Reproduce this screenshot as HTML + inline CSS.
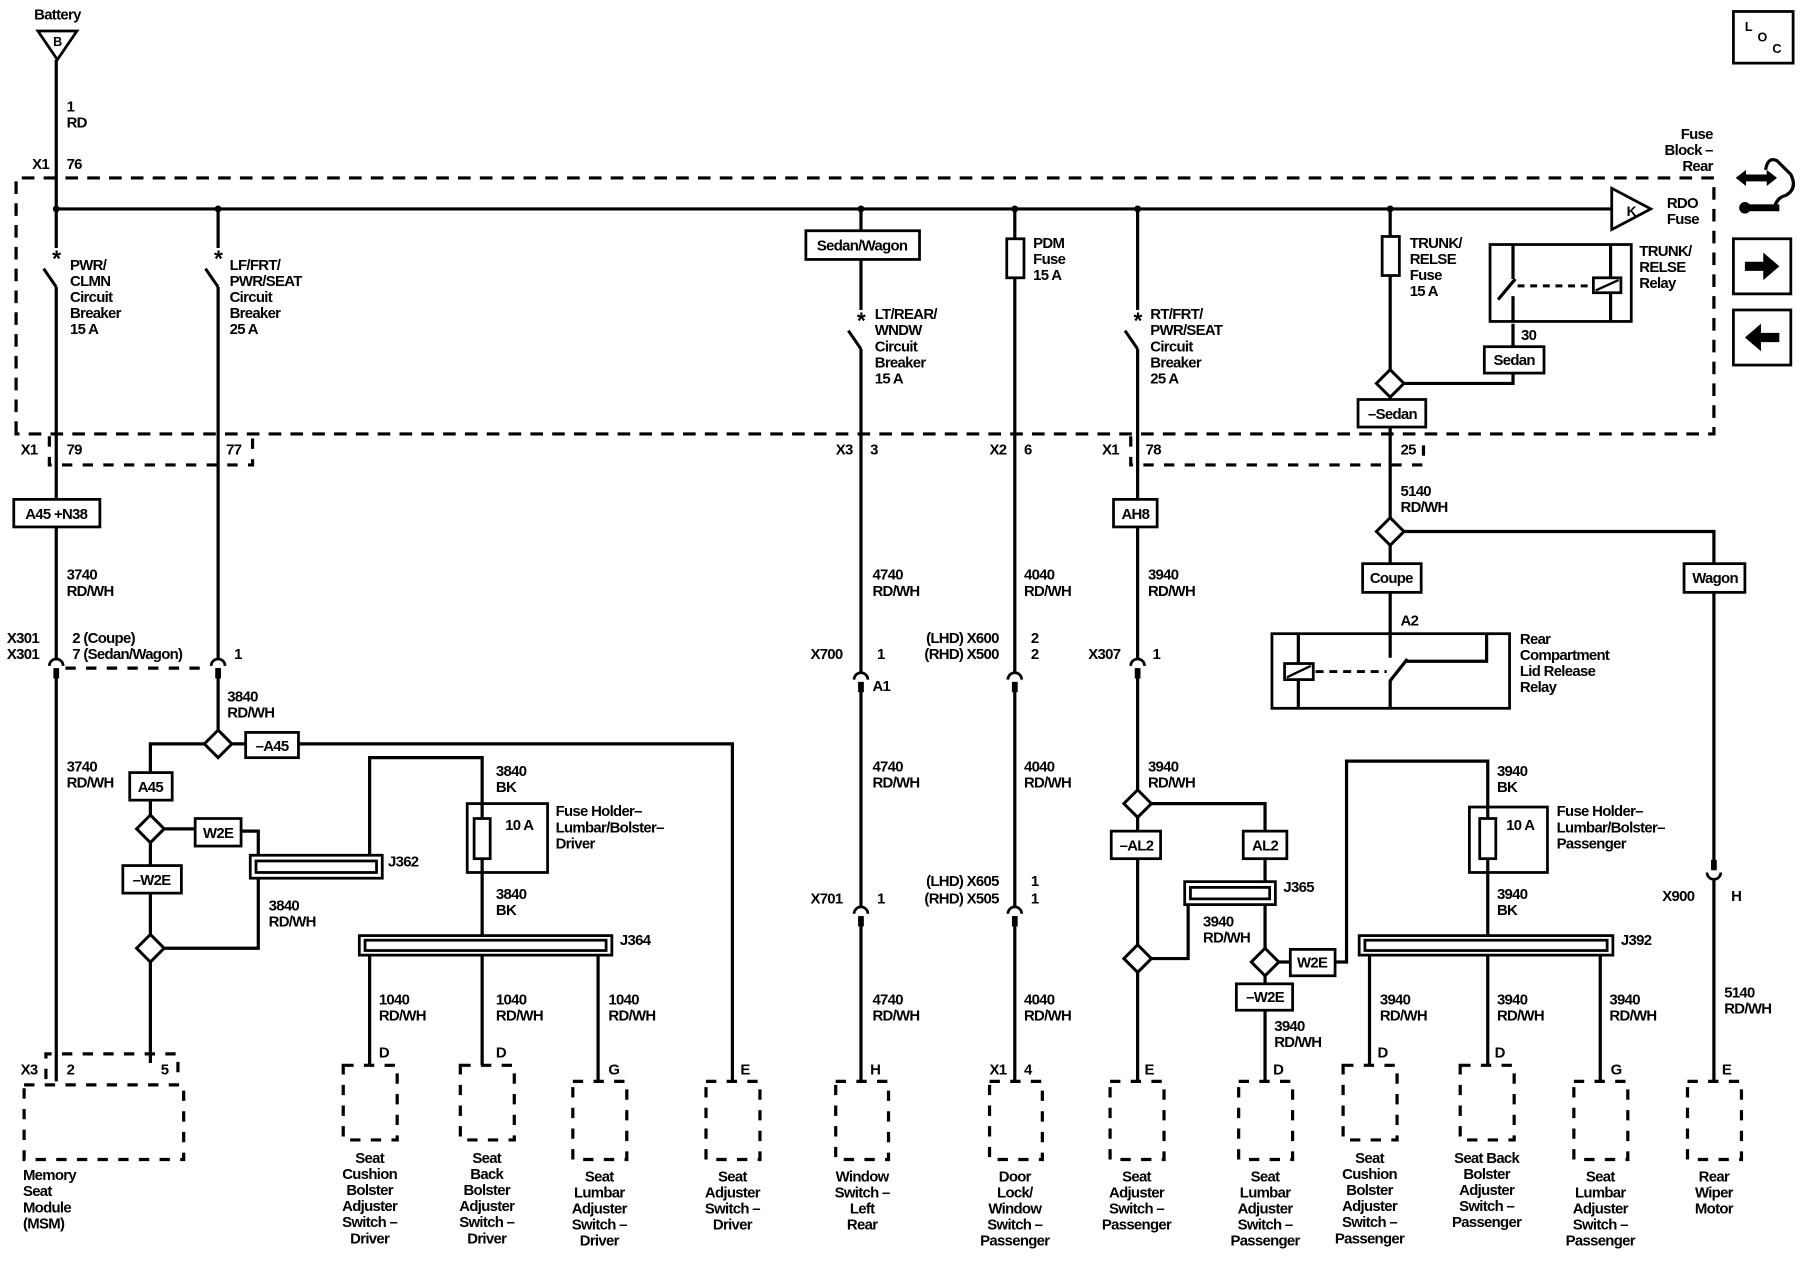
<!DOCTYPE html>
<html><head><meta charset="utf-8"><style>
html,body{margin:0;padding:0;background:#fff;}
svg{display:block;}
text{font-family:"Liberation Sans",Arial,sans-serif;font-size:13px;font-weight:bold;letter-spacing:-0.6px;fill:#000;}
.w{stroke:#000;stroke-width:2.8;fill:none;}
.b{stroke:#000;stroke-width:2.4;fill:#fff;}
.d{stroke:#000;stroke-width:2.8;fill:none;stroke-dasharray:11 8;}
.dc{stroke:#000;stroke-width:2.8;fill:none;stroke-dasharray:9 9;}
.m{text-anchor:middle;}
.e{text-anchor:end;}
</style></head><body>
<svg width="1800" height="1280" viewBox="0 0 1568 1115" preserveAspectRatio="none" xmlns="http://www.w3.org/2000/svg">
<defs>
<g id="fc"><rect x="-4" y="-2" width="8" height="8" fill="#fff"/><path d="M-6,4 A6,6 0 0 1 6,4" stroke="#000" stroke-width="2.4" fill="none"/><rect x="-2.5" y="6" width="5" height="9" fill="#000"/></g>
<g id="dm"><path d="M0,-12 L12,0 L0,12 L-12,0 Z" stroke="#000" stroke-width="2.6" fill="#fff"/></g>
<g id="cb"><rect x="-4" y="-2" width="8" height="34" fill="#fff"/><text x="0" y="14" class="m" style="font-size:20px">*</text><line x1="-11" y1="16" x2="0" y2="32" stroke="#000" stroke-width="2.6"/></g>
</defs>

<!-- Battery -->
<text x="50" y="17" class="m">Battery</text>
<path d="M33,27 L67,27 L50,52 Z" class="b"/>
<text x="50" y="40" class="m" style="font-size:11px">B</text>
<text x="58" y="97">1</text><text x="58" y="111">RD</text>
<text x="28" y="147">X1</text><text x="58" y="147">76</text>

<!-- Fuse block dashed -->
<path d="M14,378 V155 H1493 V378 Z" class="d"/>
<text x="1492" y="121" class="e">Fuse</text><text x="1492" y="135" class="e">Block –</text><text x="1492" y="149" class="e">Rear</text>

<!-- bus -->
<line x1="49" y1="182" x2="1404" y2="182" class="w"/>
<path d="M1404,164 L1404,200 L1438,182 Z" class="b" stroke-width="2.6"/>
<text x="1417" y="188" style="font-size:12px">K</text>
<text x="1452" y="181">RDO</text><text x="1452" y="195">Fuse</text>
<g fill="#000"><circle cx="49" cy="182" r="3"/><circle cx="190" cy="182" r="3"/><circle cx="750" cy="182" r="3"/><circle cx="884" cy="182" r="3"/><circle cx="991" cy="182" r="3"/><circle cx="1211" cy="182" r="3"/></g>

<!-- Col 49 -->
<line x1="49" y1="52" x2="49" y2="942" class="w"/>
<use href="#cb" x="49" y="218"/>
<text x="61" y="235">PWR/</text><text x="61" y="249">CLMN</text><text x="61" y="263">Circuit</text><text x="61" y="277">Breaker</text><text x="61" y="291">15 A</text>
<text x="18" y="396">X1</text><text x="58" y="396">79</text>
<text x="197" y="396">77</text>
<path d="M43,380 V405 H220 V380" class="dc" stroke-width="2.2"/>
<rect x="12" y="435" width="75" height="24" class="b"/><text x="49" y="452" class="m">A45 +N38</text>
<text x="58" y="505">3740</text><text x="58" y="519">RD/WH</text>
<text x="6" y="560">X301</text><text x="6" y="574">X301</text>
<text x="63" y="560">2 (Coupe)</text><text x="63" y="574">7 (Sedan/Wagon)</text>
<line x1="57" y1="582" x2="182" y2="582" class="dc" stroke-width="2.2"/>
<use href="#fc" x="49" y="576"/>

<!-- Col 190 -->
<line x1="190" y1="182" x2="190" y2="636" class="w"/>
<use href="#cb" x="190" y="218"/>
<text x="200" y="235">LF/FRT/</text><text x="200" y="249">PWR/SEAT</text><text x="200" y="263">Circuit</text><text x="200" y="277">Breaker</text><text x="200" y="291">25 A</text>
<text x="204" y="574">1</text>
<use href="#fc" x="190" y="576"/>
<text x="198" y="611">3840</text><text x="198" y="625">RD/WH</text>
<use href="#dm" x="190" y="648"/>
<path d="M202,648 H214 M260,648 H638 V942" class="w"/>
<rect x="214" y="638" width="46" height="22" class="b"/><text x="237" y="654" class="m">–A45</text>
<path d="M178,648 H131 V673 M131,697 V710 M143,722 H170 M210,724 H225 V745 M131,734 V754 M131,778 V814 M143,826 H225 V765 M131,838 V926" class="w"/>
<rect x="113" y="673" width="37" height="24" class="b"/><text x="131" y="690" class="m">A45</text>
<text x="58" y="672">3740</text><text x="58" y="686">RD/WH</text>
<use href="#dm" x="131" y="722"/>
<rect x="170" y="713" width="40" height="24" class="b"/><text x="190" y="730" class="m">W2E</text>
<rect x="107" y="754" width="51" height="24" class="b"/><text x="132" y="771" class="m">–W2E</text>
<use href="#dm" x="131" y="826"/>
<text x="234" y="793">3840</text><text x="234" y="807">RD/WH</text>
<rect x="218" y="745" width="115" height="20" class="b"/><rect x="223" y="750" width="105" height="10" class="b" stroke-width="2"/>
<text x="338" y="755">J362</text>
<path d="M322,745 V660 H420 V700 M420,760 V815" class="w"/>
<text x="432" y="676">3840</text><text x="432" y="690">BK</text>
<rect x="407" y="700" width="70" height="60" class="b"/>
<line x1="420" y1="700" x2="420" y2="760" class="w"/>
<rect x="413" y="713" width="14" height="35" class="b"/>
<text x="440" y="723">10 A</text>
<text x="484" y="711">Fuse Holder–</text><text x="484" y="725">Lumbar/Bolster–</text><text x="484" y="739">Driver</text>
<text x="432" y="783">3840</text><text x="432" y="797">BK</text>
<rect x="313" y="815" width="220" height="17" class="b"/><rect x="318" y="819" width="210" height="9" class="b" stroke-width="2"/>
<text x="540" y="823">J364</text>
<path d="M322,832 V928 M420,832 V928 M521,832 V942" class="w"/>
<text x="330" y="875">1040</text><text x="330" y="889">RD/WH</text>
<text x="432" y="875">1040</text><text x="432" y="889">RD/WH</text>
<text x="530" y="875">1040</text><text x="530" y="889">RD/WH</text>

<!-- Col 750 -->
<line x1="750" y1="182" x2="750" y2="942" class="w"/>
<rect x="702" y="201" width="99" height="25" class="b"/><text x="751" y="218" class="m">Sedan/Wagon</text>
<use href="#cb" x="750" y="272"/>
<text x="762" y="278">LT/REAR/</text><text x="762" y="292">WNDW</text><text x="762" y="306">Circuit</text><text x="762" y="320">Breaker</text><text x="762" y="334">15 A</text>
<text x="728" y="396">X3</text><text x="758" y="396">3</text>
<text x="760" y="505">4740</text><text x="760" y="519">RD/WH</text>
<text x="706" y="574">X700</text><text x="764" y="574">1</text>
<use href="#fc" x="750" y="588"/>
<text x="760" y="602">A1</text>
<text x="760" y="672">4740</text><text x="760" y="686">RD/WH</text>
<text x="706" y="787">X701</text><text x="764" y="787">1</text>
<use href="#fc" x="750" y="792"/>
<text x="760" y="875">4740</text><text x="760" y="889">RD/WH</text>

<!-- Col 884 -->
<line x1="884" y1="182" x2="884" y2="942" class="w"/>
<rect x="877" y="208" width="15" height="34" class="b"/>
<text x="900" y="216">PDM</text><text x="900" y="230">Fuse</text><text x="900" y="244">15 A</text>
<text x="862" y="396">X2</text><text x="892" y="396">6</text>
<text x="892" y="505">4040</text><text x="892" y="519">RD/WH</text>
<text x="870" y="560" class="e">(LHD) X600</text><text x="870" y="574" class="e">(RHD) X500</text>
<text x="898" y="560">2</text><text x="898" y="574">2</text>
<use href="#fc" x="884" y="588"/>
<text x="892" y="672">4040</text><text x="892" y="686">RD/WH</text>
<text x="870" y="772" class="e">(LHD) X605</text><text x="870" y="787" class="e">(RHD) X505</text>
<text x="898" y="772">1</text><text x="898" y="787">1</text>
<use href="#fc" x="884" y="792"/>
<text x="892" y="875">4040</text><text x="892" y="889">RD/WH</text>

<!-- Col 991 -->
<line x1="991" y1="182" x2="991" y2="942" class="w"/>
<use href="#cb" x="991" y="272"/>
<text x="1002" y="278">RT/FRT/</text><text x="1002" y="292">PWR/SEAT</text><text x="1002" y="306">Circuit</text><text x="1002" y="320">Breaker</text><text x="1002" y="334">25 A</text>
<text x="960" y="396">X1</text><text x="998" y="396">78</text>
<text x="1220" y="396">25</text>
<path d="M985,380 V405 H1240 V380" class="dc" stroke-width="2.2"/>
<rect x="970" y="435" width="38" height="24" class="b"/><text x="989" y="452" class="m">AH8</text>
<text x="1000" y="505">3940</text><text x="1000" y="519">RD/WH</text>
<text x="948" y="574">X307</text><text x="1004" y="574">1</text>
<use href="#fc" x="991" y="576"/>
<text x="1000" y="672">3940</text><text x="1000" y="686">RD/WH</text>
<path d="M1003,700 H1102 V724 M1102,748 V768 M1035,788 V835 H1003 M1102,788 V826 M1114,838 H1124 M1163,838 H1173 V663 H1296 V703 M1296,760 V815 M1102,850 V942" class="w"/>
<rect x="968" y="724" width="43" height="24" class="b"/><text x="990" y="741" class="m">–AL2</text>
<use href="#dm" x="991" y="700"/>
<use href="#dm" x="991" y="835"/>
<rect x="1083" y="724" width="38" height="24" class="b"/><text x="1102" y="741" class="m">AL2</text>
<rect x="1032" y="768" width="79" height="20" class="b"/><rect x="1037" y="773" width="69" height="10" class="b" stroke-width="2"/>
<text x="1118" y="777">J365</text>
<text x="1048" y="807">3940</text><text x="1048" y="821">RD/WH</text>
<use href="#dm" x="1102" y="838"/>
<rect x="1124" y="827" width="39" height="23" class="b"/><text x="1143" y="843" class="m">W2E</text>
<rect x="1077" y="857" width="49" height="23" class="b"/><text x="1102" y="873" class="m">–W2E</text>
<text x="1110" y="898">3940</text><text x="1110" y="912">RD/WH</text>
<text x="1304" y="676">3940</text><text x="1304" y="690">BK</text>
<rect x="1280" y="703" width="68" height="57" class="b"/>
<line x1="1296" y1="703" x2="1296" y2="760" class="w"/>
<rect x="1289" y="713" width="14" height="35" class="b"/>
<text x="1312" y="723">10 A</text>
<text x="1356" y="711">Fuse Holder–</text><text x="1356" y="725">Lumbar/Bolster–</text><text x="1356" y="739">Passenger</text>
<text x="1304" y="783">3940</text><text x="1304" y="797">BK</text>
<rect x="1184" y="815" width="221" height="17" class="b"/><rect x="1189" y="819" width="211" height="9" class="b" stroke-width="2"/>
<text x="1412" y="823">J392</text>
<path d="M1193,832 V928 M1296,832 V928 M1394,832 V942" class="w"/>
<text x="1202" y="875">3940</text><text x="1202" y="889">RD/WH</text>
<text x="1304" y="875">3940</text><text x="1304" y="889">RD/WH</text>
<text x="1402" y="875">3940</text><text x="1402" y="889">RD/WH</text>

<!-- Col 1211 -->
<path d="M1211,182 V206 M1211,240 V322 M1223,334 H1318 V325 M1318,302 V282 M1211,346 V451 M1223,463 H1493 V491 M1493,516 V942 M1211,475 V491 M1211,516 V552" class="w"/>
<rect x="1204" y="206" width="15" height="34" class="b"/>
<text x="1228" y="216">TRUNK/</text><text x="1228" y="230">RELSE</text><text x="1228" y="244">Fuse</text><text x="1228" y="258">15 A</text>
<use href="#dm" x="1211" y="334"/>
<rect x="1293" y="302" width="52" height="23" class="b"/><text x="1319" y="318" class="m">Sedan</text>
<text x="1325" y="296">30</text>
<rect x="1298" y="213" width="123" height="67" class="b"/>
<path d="M1318,213 V243 M1318,258 V280 M1403,213 V280" class="w"/>
<line x1="1305" y1="261" x2="1320" y2="243" class="w"/>
<line x1="1322" y1="249" x2="1384" y2="249" stroke="#000" stroke-width="2.6" stroke-dasharray="6 5"/>
<rect x="1388" y="242" width="24" height="13" class="b"/><line x1="1390" y1="253" x2="1410" y2="244" stroke="#000" stroke-width="2"/>
<text x="1428" y="223">TRUNK/</text><text x="1428" y="237">RELSE</text><text x="1428" y="251">Relay</text>
<rect x="1183" y="348" width="59" height="24" class="b"/><text x="1213" y="365" class="m">–Sedan</text>
<text x="1220" y="432">5140</text><text x="1220" y="446">RD/WH</text>
<use href="#dm" x="1211" y="463"/>
<rect x="1187" y="491" width="51" height="25" class="b"/><text x="1212" y="508" class="m">Coupe</text>
<rect x="1467" y="491" width="53" height="25" class="b"/><text x="1494" y="508" class="m">Wagon</text>
<text x="1220" y="545">A2</text>
<rect x="1108" y="552" width="207" height="65" class="b"/>
<path d="M1131,552 V617 M1211,552 V573 M1211,592 V617 M1225,576 H1295 V552" class="w"/>
<line x1="1211" y1="593" x2="1226" y2="574" class="w"/>
<rect x="1119" y="578" width="25" height="14" class="b"/><line x1="1121" y1="590" x2="1142" y2="580" stroke="#000" stroke-width="2"/>
<line x1="1146" y1="585" x2="1208" y2="585" stroke="#000" stroke-width="2.6" stroke-dasharray="7 5"/>
<text x="1324" y="561">Rear</text><text x="1324" y="575">Compartment</text><text x="1324" y="589">Lid Release</text><text x="1324" y="603">Relay</text>
<g transform="translate(1493,764) rotate(180)"><use href="#fc"/></g>
<text x="1448" y="785">X900</text><text x="1508" y="785">H</text>
<text x="1502" y="869">5140</text><text x="1502" y="883">RD/WH</text>

<!-- Bottom pin labels -->
<text x="18" y="936">X3</text><text x="58" y="936">2</text><text x="140" y="936">5</text>
<path d="M40,940 V918 H155 V940" class="dc" stroke-width="2.2"/>
<rect x="21" y="945" width="139" height="65" class="dc"/>
<text x="20" y="1028">Memory</text><text x="20" y="1042">Seat</text><text x="20" y="1056">Module</text><text x="20" y="1070">(MSM)</text>

<text x="330" y="921">D</text><rect x="299" y="928" width="47" height="65" class="dc"/>
<text x="322" y="1013" class="m">Seat</text><text x="322" y="1027" class="m">Cushion</text><text x="322" y="1041" class="m">Bolster</text><text x="322" y="1055" class="m">Adjuster</text><text x="322" y="1069" class="m">Switch –</text><text x="322" y="1083" class="m">Driver</text>

<text x="432" y="921">D</text><rect x="401" y="928" width="47" height="65" class="dc"/>
<text x="424" y="1013" class="m">Seat</text><text x="424" y="1027" class="m">Back</text><text x="424" y="1041" class="m">Bolster</text><text x="424" y="1055" class="m">Adjuster</text><text x="424" y="1069" class="m">Switch –</text><text x="424" y="1083" class="m">Driver</text>

<text x="530" y="936">G</text><rect x="499" y="942" width="47" height="68" class="dc"/>
<text x="522" y="1029" class="m">Seat</text><text x="522" y="1043" class="m">Lumbar</text><text x="522" y="1057" class="m">Adjuster</text><text x="522" y="1071" class="m">Switch –</text><text x="522" y="1085" class="m">Driver</text>

<text x="645" y="936">E</text><rect x="615" y="942" width="47" height="68" class="dc"/>
<text x="638" y="1029" class="m">Seat</text><text x="638" y="1043" class="m">Adjuster</text><text x="638" y="1057" class="m">Switch –</text><text x="638" y="1071" class="m">Driver</text>

<text x="758" y="936">H</text><rect x="728" y="942" width="46" height="68" class="dc"/>
<text x="751" y="1029" class="m">Window</text><text x="751" y="1043" class="m">Switch –</text><text x="751" y="1057" class="m">Left</text><text x="751" y="1071" class="m">Rear</text>

<text x="862" y="936">X1</text><text x="892" y="936">4</text><rect x="862" y="942" width="46" height="68" class="dc"/>
<text x="884" y="1029" class="m">Door</text><text x="884" y="1043" class="m">Lock/</text><text x="884" y="1057" class="m">Window</text><text x="884" y="1071" class="m">Switch –</text><text x="884" y="1085" class="m">Passenger</text>

<text x="997" y="936">E</text><rect x="967" y="942" width="47" height="68" class="dc"/>
<text x="990" y="1029" class="m">Seat</text><text x="990" y="1043" class="m">Adjuster</text><text x="990" y="1057" class="m">Switch –</text><text x="990" y="1071" class="m">Passenger</text>

<text x="1109" y="936">D</text><rect x="1079" y="942" width="47" height="68" class="dc"/>
<text x="1102" y="1029" class="m">Seat</text><text x="1102" y="1043" class="m">Lumbar</text><text x="1102" y="1057" class="m">Adjuster</text><text x="1102" y="1071" class="m">Switch –</text><text x="1102" y="1085" class="m">Passenger</text>

<text x="1200" y="921">D</text><rect x="1170" y="928" width="47" height="65" class="dc"/>
<text x="1193" y="1013" class="m">Seat</text><text x="1193" y="1027" class="m">Cushion</text><text x="1193" y="1041" class="m">Bolster</text><text x="1193" y="1055" class="m">Adjuster</text><text x="1193" y="1069" class="m">Switch –</text><text x="1193" y="1083" class="m">Passenger</text>

<text x="1302" y="921">D</text><rect x="1272" y="928" width="47" height="65" class="dc"/>
<text x="1295" y="1013" class="m">Seat Back</text><text x="1295" y="1027" class="m">Bolster</text><text x="1295" y="1041" class="m">Adjuster</text><text x="1295" y="1055" class="m">Switch –</text><text x="1295" y="1069" class="m">Passenger</text>

<text x="1403" y="936">G</text><rect x="1371" y="942" width="47" height="68" class="dc"/>
<text x="1394" y="1029" class="m">Seat</text><text x="1394" y="1043" class="m">Lumbar</text><text x="1394" y="1057" class="m">Adjuster</text><text x="1394" y="1071" class="m">Switch –</text><text x="1394" y="1085" class="m">Passenger</text>

<text x="1500" y="936">E</text><rect x="1470" y="942" width="47" height="68" class="dc"/>
<text x="1493" y="1029" class="m">Rear</text><text x="1493" y="1043" class="m">Wiper</text><text x="1493" y="1057" class="m">Motor</text>

<!-- Right icons -->
<rect x="1510" y="10" width="52" height="45" class="b" stroke-width="2"/>
<text x="1520" y="27" style="font-size:11px">L</text><text x="1531" y="36" style="font-size:11px">O</text><text x="1544" y="46" style="font-size:11px">C</text>
<path d="M1512,155 L1521,148 V152 H1539 V148 L1548,155 L1539,162 V158 H1521 V162 Z" fill="#000"/>
<path d="M1538,148 Q1540,136 1548,140 Q1556,148 1560,152 Q1566,164 1556,170 Q1548,172 1546,180 H1536" class="w" stroke-width="2.4"/>
<circle cx="1520" cy="181" r="5" fill="#000"/><rect x="1520" y="178" width="30" height="6" fill="#000"/>
<rect x="1510" y="208" width="50" height="48" class="b" stroke-width="2.6"/>
<path d="M1520,228 H1536 V220 L1550,232 L1536,244 V236 H1520 Z" fill="#000"/>
<rect x="1510" y="270" width="50" height="48" class="b" stroke-width="2.6"/>
<path d="M1550,290 H1534 V282 L1520,294 L1534,306 V298 H1550 Z" fill="#000"/>
</svg>
</body></html>
